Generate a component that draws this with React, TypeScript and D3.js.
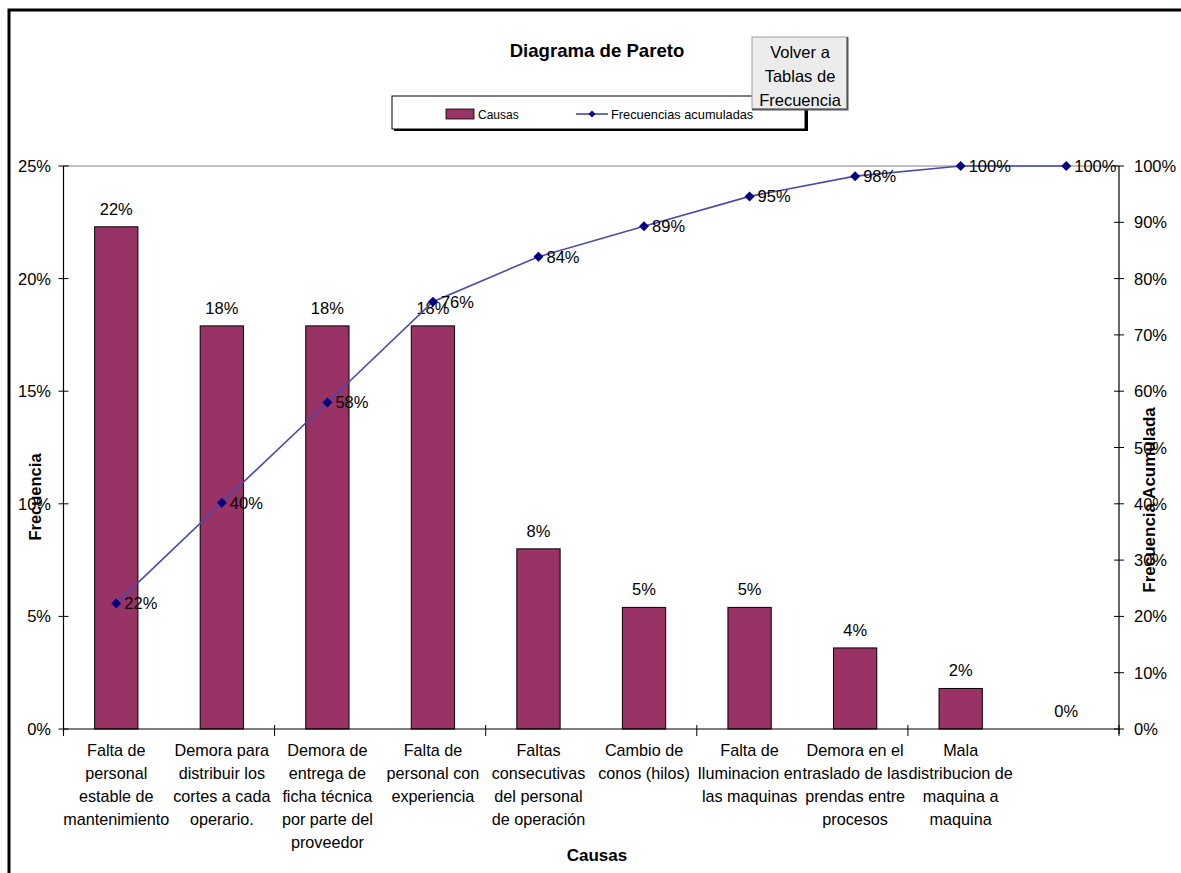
import React from 'react';
import * as d3 from 'd3';

// categories (wrapped lines as shown under the axis)
const causas: string[][] = [
  ['Falta de', 'personal', 'estable de', 'mantenimiento'],
  ['Demora para', 'distribuir los', 'cortes a cada', 'operario.'],
  ['Demora de', 'entrega de', 'ficha técnica', 'por parte del', 'proveedor'],
  ['Falta de', 'personal con', 'experiencia'],
  ['Faltas', 'consecutivas', 'del personal', 'de operación'],
  ['Cambio de', 'conos (hilos)'],
  ['Falta de', 'Iluminacion en', 'las maquinas'],
  ['Demora en el', 'traslado de las', 'prendas entre', 'procesos'],
  ['Mala', 'distribucion de', 'maquina a', 'maquina'],
  [''],
];
const frecuencia = [22.3, 17.9, 17.9, 17.9, 8.0, 5.4, 5.4, 3.6, 1.8, 0];
const acumulada = [22.3, 40.2, 58.0, 75.9, 83.9, 89.3, 94.6, 98.2, 100, 100];
const leftTicks = [0, 5, 10, 15, 20, 25];
const rightTicks = [0, 10, 20, 30, 40, 50, 60, 70, 80, 90, 100];

const FONT = '"Liberation Sans", Arial, sans-serif';
const BAR = '#993366';

export default function App() {
  const W = 1181;
  const H = 873;
  const left = 63.5;
  const right = 1119;
  const top = 166;
  const bottom = 729;

  const idx = causas.map((_, i) => String(i));
  const x = d3.scaleBand().domain(idx).range([left, right]).padding(0);
  const yL = d3.scaleLinear().domain([0, 25]).range([bottom, top]);
  const yR = d3.scaleLinear().domain([0, 100]).range([bottom, top]);
  const bw = x.bandwidth() * 0.41;
  const cx = (i: number) => (x(String(i)) as number) + x.bandwidth() / 2;

  const line = d3
    .line<number>()
    .x((_, i) => cx(i))
    .y((d) => yR(d));

  const diamond = (px: number, py: number, r = 4) =>
    `M${px},${py - r}L${px + r},${py}L${px},${py + r}L${px - r},${py}Z`;

  return (
    <svg
      width={W}
      height={H}
      style={{ position: 'absolute', left: 0, top: 0, background: '#fff' }}
      fontFamily={FONT}
    >
      {/* chart frame */}
      <path d={`M9,${H + 5}V10H${W + 5}`} fill="none" stroke="#000" strokeWidth={3} />

      {/* title */}
      <text x={597} y={57} textAnchor="middle" fontSize={18.6} fontWeight="bold">
        Diagrama de Pareto
      </text>

      {/* legend */}
      <rect x={394} y={98} width={414} height={33} fill="#000" />
      <rect x={392} y={96} width={413} height={33} fill="#fff" stroke="#000" strokeWidth={1} />
      <rect x={446} y={109} width={28} height={10} fill={BAR} stroke="#000" strokeWidth={0.8} />
      <text x={478} y={118.5} fontSize={12}>Causas</text>
      <line x1={576} x2={608} y1={114} y2={114} stroke="#3a3aa0" strokeWidth={1.5} />
      <path d={diamond(592, 114, 3.5)} fill="#000080" />
      <text x={611} y={118.5} fontSize={12.8}>Frecuencias acumuladas</text>

      {/* button */}
      <rect x={752} y={37} width={95} height={72} fill="#ececec" stroke="#a0a0a0" />
      <path d="M847.5,37V109.5H752" fill="none" stroke="#555" strokeWidth={2} />
      <text x={800} y={58} textAnchor="middle" fontSize={16.5}>Volver a</text>
      <text x={800} y={82} textAnchor="middle" fontSize={16.5}>Tablas de</text>
      <clipPath id="btnclip">
        <rect x={752} y={37} width={95} height={71} />
      </clipPath>
      <text x={800} y={106} textAnchor="middle" fontSize={16.5} clipPath="url(#btnclip)">
        Frecuencia
      </text>

      {/* plot area top border */}
      <line x1={left} x2={right} y1={top} y2={top} stroke="#808080" strokeWidth={1} />

      {/* bars */}
      {frecuencia.map((v, i) =>
        v > 0 ? (
          <rect
            key={'b' + i}
            x={cx(i) - bw / 2}
            y={yL(v)}
            width={bw}
            height={bottom - yL(v)}
            fill={BAR}
            stroke="#000"
            strokeWidth={1}
          />
        ) : null
      )}
      {frecuencia.map((v, i) => (
        <text key={'bl' + i} x={cx(i)} y={yL(v) - 12} textAnchor="middle" fontSize={16.5}>
          {Math.round(v)}%
        </text>
      ))}

      {/* axes */}
      <line x1={left} x2={right} y1={bottom} y2={bottom} stroke="#000" strokeWidth={1.2} />
      <line x1={left} x2={left} y1={top} y2={bottom + 5} stroke="#000" strokeWidth={1.2} />
      <line x1={right} x2={right} y1={top} y2={bottom + 5} stroke="#000" strokeWidth={1.2} />
      {leftTicks.map((t) => (
        <g key={'lt' + t}>
          <line x1={left - 5} x2={left + 5} y1={yL(t)} y2={yL(t)} stroke="#000" />
          <text x={51} y={yL(t) + 6} textAnchor="end" fontSize={16.5}>
            {t}%
          </text>
        </g>
      ))}
      {rightTicks.map((t) => (
        <g key={'rt' + t}>
          <line x1={right - 5} x2={right + 5} y1={yR(t)} y2={yR(t)} stroke="#000" />
          <text x={1134} y={yR(t) + 6} fontSize={16.5}>
            {t}%
          </text>
        </g>
      ))}
      {[0, 2, 4, 6, 8, 10].map((k) => {
        const px = k < 10 ? (x(String(k)) as number) : right;
        return <line key={'xt' + k} x1={px} x2={px} y1={bottom - 4} y2={bottom + 7} stroke="#000" />;
      })}

      {/* category labels */}
      {causas.map((lines, i) => (
        <text key={'c' + i} x={cx(i)} textAnchor="middle" fontSize={16.2}>
          {lines.map((l, j) => (
            <tspan key={j} x={cx(i)} y={756 + j * 23}>
              {l}
            </tspan>
          ))}
        </text>
      ))}

      {/* axis titles */}
      <text x={597} y={861} textAnchor="middle" fontSize={17} fontWeight="bold">
        Causas
      </text>
      <text
        transform="translate(41,497) rotate(-90)"
        textAnchor="middle"
        fontSize={16.5}
        fontWeight="bold"
      >
        Frecuencia
      </text>
      <text
        transform="translate(1155,500) rotate(-90)"
        textAnchor="middle"
        fontSize={17}
        fontWeight="bold"
      >
        Frecuencia Acumulada
      </text>

      {/* cumulative line */}
      <path d={line(acumulada) || ''} fill="none" stroke="#4a4aab" strokeWidth={1.6} />
      {acumulada.map((v, i) => (
        <g key={'p' + i}>
          <path d={diamond(cx(i), yR(v), 5)} fill="#000080" />
          <text x={cx(i) + 8} y={yR(v) + 6} fontSize={16.5}>
            {Math.round(v)}%
          </text>
        </g>
      ))}
    </svg>
  );
}
